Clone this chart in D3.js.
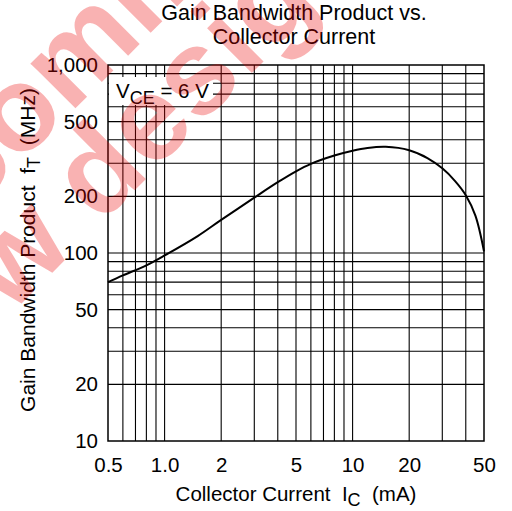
<!DOCTYPE html>
<html lang="en">
<head>
<meta charset="utf-8">
<title>Gain Bandwidth Product vs. Collector Current</title>
<script src="https://cdn.jsdelivr.net/npm/d3@7"></script>
<style>
  body { margin: 0; background: #fff; }
  svg { display: block; font-family: "Liberation Sans", Arial, sans-serif; }
  text { white-space: pre; }
</style>
</head>
<body>
<div id="chart"></div>
<script>
// data
var icValues = [0.5, 0.6, 0.8, 1.0, 1.5, 2, 3, 4, 5, 6, 8, 10, 12, 15, 20, 25, 30, 35, 40, 45, 50];
var ftValues = [70, 76, 86, 97, 123, 150, 197, 238, 272, 298, 330, 350, 362, 367, 352, 320, 282, 242, 203, 158, 102];

var xTickValues = [0.5, 1, 2, 5, 10, 20, 50];
var xTickLabels = ["0.5", "1.0", "2", "5", "10", "20", "50"];
var yTickValues = [10, 20, 50, 100, 200, 500, 1000];
var yTickLabels = ["10", "20", "50", "100", "200", "500", "1,000"];

var xGridValues = [0.6, 0.7, 0.8, 0.9, 1, 2, 3, 4, 5, 6, 7, 8, 9, 10, 20, 30, 40];
var yGridValues = [20, 30, 40, 50, 60, 70, 80, 90, 100, 200, 300, 400, 500, 600, 700, 800, 900];

var width = 512, height = 511;
var margin = {top: 65, right: 28, bottom: 70, left: 108};
var fs = 20.5;

var svg = d3.select("#chart").append("svg")
  .attr("width", width)
  .attr("height", height);

var x = d3.scaleLog().domain([0.5, 50]).range([margin.left, width - margin.right]);
var y = d3.scaleLog().domain([10, 1000]).range([height - margin.bottom, margin.top]);

// grid
svg.append("g").selectAll("line")
  .data(xGridValues)
  .enter().append("line")
    .attr("x1", function(d) { return x(d); })
    .attr("x2", function(d) { return x(d); })
    .attr("y1", y(10))
    .attr("y2", y(1000))
    .attr("stroke", "#000")
    .attr("stroke-width", 1.1);

svg.append("g").selectAll("line")
  .data(yGridValues)
  .enter().append("line")
    .attr("x1", x(0.5))
    .attr("x2", x(50))
    .attr("y1", function(d) { return y(d); })
    .attr("y2", function(d) { return y(d); })
    .attr("stroke", "#000")
    .attr("stroke-width", 1.1);

// frame
svg.append("rect")
  .attr("x", x(0.5))
  .attr("y", y(1000))
  .attr("width", x(50) - x(0.5))
  .attr("height", y(10) - y(1000))
  .attr("fill", "none")
  .attr("stroke", "#000")
  .attr("stroke-width", 1.5);

// condition label with white box over the grid
svg.append("rect")
  .attr("x", x(0.5) + 1)
  .attr("y", 77)
  .attr("width", 104)
  .attr("height", 28)
  .attr("fill", "#fff");

var cond = svg.append("text")
  .attr("x", 116)
  .attr("y", 98)
  .attr("font-size", fs)
  .attr("fill", "#000");
cond.append("tspan").text("V");
cond.append("tspan").attr("dy", 6).attr("font-size", 18).text("CE");
cond.append("tspan").attr("dy", -6).text(" = 6 V");

// curve
var line = d3.line()
  .x(function(d, i) { return x(icValues[i]); })
  .y(function(d) { return y(d); })
  .curve(d3.curveCatmullRom);

svg.append("path")
  .datum(ftValues)
  .attr("fill", "none")
  .attr("stroke", "#000")
  .attr("stroke-width", 2)
  .attr("d", line);

// axes
var xAxis = svg.append("g")
  .attr("transform", "translate(0," + (height - margin.bottom) + ")")
  .call(d3.axisBottom(x)
    .tickValues(xTickValues)
    .tickSize(0)
    .tickPadding(16)
    .tickFormat(function(d, i) { return xTickLabels[i]; }));
xAxis.select(".domain").remove();
xAxis.selectAll("text")
  .attr("font-size", fs)
  .attr("font-family", "Liberation Sans, Arial, sans-serif")
  .attr("fill", "#000");

var yAxis = svg.append("g")
  .attr("transform", "translate(" + margin.left + ",0)")
  .call(d3.axisLeft(y)
    .tickValues(yTickValues)
    .tickSize(0)
    .tickPadding(10)
    .tickFormat(function(d, i) { return yTickLabels[i]; }));
yAxis.select(".domain").remove();
yAxis.selectAll("text")
  .attr("font-size", fs)
  .attr("font-family", "Liberation Sans, Arial, sans-serif")
  .attr("fill", "#000");

// titles
svg.append("text")
  .attr("x", 294)
  .attr("y", 20)
  .attr("text-anchor", "middle")
  .attr("font-size", 21.5)
  .text("Gain Bandwidth Product vs.");
svg.append("text")
  .attr("x", 294)
  .attr("y", 44)
  .attr("text-anchor", "middle")
  .attr("font-size", 21.5)
  .text("Collector Current");

var xt = svg.append("text")
  .attr("x", 296)
  .attr("y", 501)
  .attr("text-anchor", "middle")
  .attr("font-size", fs);
xt.append("tspan").text("Collector Current  I");
xt.append("tspan").attr("dy", 5).attr("font-size", 18).text("C");
xt.append("tspan").attr("dy", -5).text("  (mA)");

var yt = svg.append("text")
  .attr("transform", "translate(35,250) rotate(-90)")
  .attr("text-anchor", "middle")
  .attr("font-size", 21);
yt.append("tspan").text("Gain Bandwidth Product  f");
yt.append("tspan").attr("dy", 5).attr("font-size", 18).text("T");
yt.append("tspan").attr("dy", -5).text("  (MHz)");

// watermark
var wm = svg.append("g")
  .attr("transform", "translate(100,225) rotate(-45)")
  .attr("fill", "rgb(235,0,0)")
  .attr("fill-opacity", 0.3)
  .attr("font-size", 120)
  .attr("font-weight", "bold");
wm.append("text").attr("x", -430).attr("y", -100).text("Not recommended for");
wm.append("text").attr("x", -267).attr("y", 0).text("new designs");
</script>
</body>
</html>
